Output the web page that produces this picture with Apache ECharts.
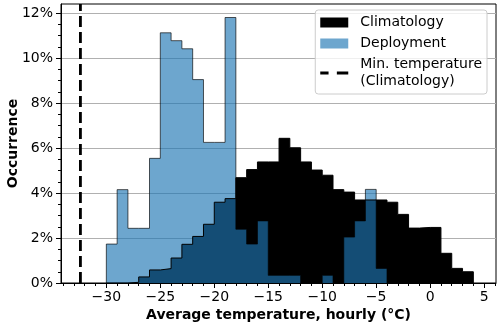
<!DOCTYPE html>
<html>
<head>
<meta charset="utf-8">
<script src="https://cdn.jsdelivr.net/npm/echarts@6/dist/echarts.min.js"></script>
<style>
  html, body { margin: 0; padding: 0; background: #fff; }
  #chart { width: 500px; height: 326px; }
</style>
</head>
<body>
<div id="chart"></div>
<script>
// histogram bins (left edge, 1 °C wide)
const binLefts = [-30, -29, -28, -27, -26, -25, -24, -23, -22, -21, -20, -19, -18, -17, -16, -15, -14,
  -13, -12, -11, -10, -9, -8, -7, -6, -5, -4, -3, -2, -1, 0, 1, 2, 3]
const binWidth = 1
// occurrence in %
const climatology = [0, 0, 0.03, 0.27, 0.58, 0.64, 1.11, 1.72, 2.07, 2.61, 3.59, 3.75, 4.68, 5.04, 5.38, 5.38, 6.43,
  6.01, 5.38, 5.02, 4.79, 4.15, 4.04, 3.69, 3.69, 3.69, 3.59, 3.05, 2.44, 2.47, 2.47, 1.32, 0.65, 0.50]
const deployment = [1.73, 4.15, 2.43, 2.43, 5.54, 11.12, 10.77, 10.41, 9.04, 6.25, 6.25, 11.80, 2.39, 1.73, 2.76, 0.34, 0.34,
  0.34, 0, 0, 0.34, 0, 2.04, 2.76, 4.16, 0.65, 0, 0, 0, 0, 0, 0, 0, 0]
const minTemperature = -32.4

const xTicks = [-30, -25, -20, -15, -10, -5, 0, 5]
const xMinorTicks = [-34, -33, -32, -31, -30, -29, -28, -27, -26, -25, -24, -23, -22, -21, -20, -19, -18, -17, -16,
  -15, -14, -13, -12, -11, -10, -9, -8, -7, -6, -5, -4, -3, -2, -1, 0, 1, 2, 3, 4, 5, 6]
const yTicks = [0, 2, 4, 6, 8, 10, 12]
const yMinorTicks = [0, 0.5, 1, 1.5, 2, 2.5, 3, 3.5, 4, 4.5, 5, 5.5, 6, 6.5, 7, 7.5, 8, 8.5, 9, 9.5, 10, 10.5,
  11, 11.5, 12]

const xMin = -34.2
const xMax = 6.1
const yMax = 12.4
const font = 'DejaVu Sans'
const fs = 14

// outline of a step-filled histogram
function stepPoints(lefts, vals) {
  const pts = [[lefts[0], 0]]
  lefts.forEach((l, i) => {
    pts.push([l, vals[i]])
    pts.push([l + binWidth, vals[i]])
  })
  pts.push([lefts[lefts.length - 1] + binWidth, 0])
  return pts
}

function fmtX(v) {
  return v < 0 ? '\u2212' + Math.abs(v) : String(v)
}

const chart = echarts.init(document.getElementById('chart'))
chart.setOption({
  animation: false,
  textStyle: { fontFamily: font },
  grid: {
    left: 61, right: 4, top: 4, bottom: 43,
    outerBoundsMode: 'none',
    containLabel: false,
    show: true, borderColor: '#000', borderWidth: 1, backgroundColor: 'transparent'
  },
  legend: {
    orient: 'vertical',
    right: 13,
    top: 10,
    itemWidth: 28,
    itemHeight: 10,
    itemGap: 4,
    padding: [4, 5, 4, 5],
    backgroundColor: 'rgba(255,255,255,0.8)',
    borderColor: '#ccc',
    borderWidth: 1,
    borderRadius: 3,
    textStyle: { fontFamily: font, fontSize: fs, lineHeight: 17, color: '#000', padding: [0, 0, 0, 7] },
    data: [
      { name: 'Climatology', icon: 'rect', itemStyle: { color: '#000', borderWidth: 0 } },
      { name: 'Deployment', icon: 'rect', itemStyle: { color: 'rgba(31,119,180,0.65)', borderWidth: 0 } },
      {
        name: 'Min. temperature\n(Climatology)',
        icon: 'path://M0,0h8v3h-8z M16,0h11v3h-11z',
        itemStyle: { color: '#000', borderWidth: 0 }
      }
    ]
  },
  xAxis: [{
    type: 'value',
    min: xMin,
    max: xMax,
    position: 'bottom',
    name: 'Average temperature, hourly (\u00b0C)',
    nameLocation: 'middle',
    nameGap: 25,
    nameMoveOverlap: false,
    nameTextStyle: { fontFamily: font, fontSize: fs, fontWeight: 'bold', color: '#000' },
    axisLine: { show: true, onZero: false, lineStyle: { color: '#000', width: 1 } },
    axisTick: { show: true, customValues: xTicks, length: 5, lineStyle: { color: '#000' } },
    axisLabel: { customValues: xTicks, formatter: fmtX, margin: 7, fontSize: fs, color: '#000', fontFamily: font },
    splitLine: { show: false }
  }, {
    type: 'value',
    min: xMin,
    max: xMax,
    position: 'bottom',
    axisLine: { show: false, onZero: false },
    axisTick: { show: true, customValues: xMinorTicks, length: 3, lineStyle: { color: '#000' } },
    axisLabel: { show: false },
    splitLine: { show: false }
  }],
  yAxis: [{
    type: 'value',
    min: 0,
    max: yMax,
    interval: 2,
    position: 'left',
    name: 'Occurrence',
    nameLocation: 'middle',
    nameGap: 41,
    nameMoveOverlap: false,
    nameTextStyle: { fontFamily: font, fontSize: fs, fontWeight: 'bold', color: '#000' },
    axisLine: { show: true, onZero: false, lineStyle: { color: '#000', width: 1 } },
    axisTick: { show: true, customValues: yTicks, length: 5, lineStyle: { color: '#000' } },
    axisLabel: { customValues: yTicks, formatter: v => v + '%', margin: 8, fontSize: fs, color: '#000', fontFamily: font },
    splitLine: { show: true, lineStyle: { color: '#b0b0b0', width: 1 } }
  }, {
    type: 'value',
    min: 0,
    max: yMax,
    position: 'left',
    axisLine: { show: false, onZero: false },
    axisTick: { show: true, customValues: yMinorTicks, length: 3, lineStyle: { color: '#000' } },
    axisLabel: { show: false },
    splitLine: { show: false }
  }],
  series: [{
    name: 'Climatology',
    type: 'line',
    xAxisIndex: 0,
    yAxisIndex: 0,
    data: stepPoints(binLefts, climatology),
    symbol: 'none',
    itemStyle: { color: '#000' },
    lineStyle: { color: '#000', width: 1 },
    areaStyle: { color: '#000', opacity: 1 }
  }, {
    name: 'Deployment',
    type: 'line',
    xAxisIndex: 0,
    yAxisIndex: 0,
    data: stepPoints(binLefts, deployment),
    symbol: 'none',
    itemStyle: { color: 'rgba(31,119,180,0.65)' },
    lineStyle: { color: 'rgba(0,0,0,0.65)', width: 1 },
    areaStyle: { color: 'rgba(31,119,180,0.65)', opacity: 1 }
  }, {
    name: 'Min. temperature\n(Climatology)',
    type: 'line',
    xAxisIndex: 0,
    yAxisIndex: 0,
    data: [[minTemperature, 0], [minTemperature, yMax]],
    symbol: 'none',
    z: 5,
    itemStyle: { color: '#000' },
    lineStyle: { color: '#000', width: 2.8, type: [11, 5] }
  }]
})
</script>
</body>
</html>
